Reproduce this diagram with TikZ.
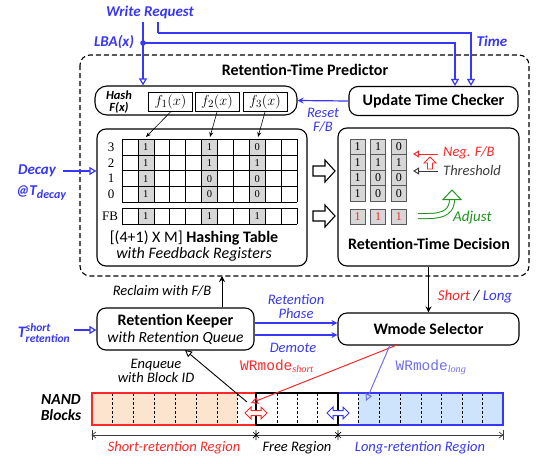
\documentclass[tikz,border=0pt]{standalone}
\usepackage{fontspec}
\setmainfont{Carlito}
\newfontfamily\serifnum{Liberation Serif}
\newfontfamily\monof{Liberation Mono}
\usetikzlibrary{arrows.meta,calc}
\definecolor{bl}{RGB}{55,55,245}
\definecolor{lbl}{RGB}{110,110,240}
\definecolor{rd}{RGB}{250,40,40}
\definecolor{gr}{RGB}{30,150,30}
\definecolor{peach}{RGB}{252,228,206}
\definecolor{lblue}{RGB}{206,228,252}
\definecolor{cellg}{RGB}{215,215,215}
\definecolor{dg}{RGB}{60,60,60}
\begin{document}
\begin{tikzpicture}[x=1pt,y=-1pt,
  font=\fontsize{14.5}{16}\selectfont,
  box/.style={draw, line width=1.1pt, rounded corners=9pt, fill=white, inner sep=0pt},
  ttl/.style={font=\fontsize{16}{18}\selectfont\bfseries},
  blab/.style={text=bl, font=\fontsize{15}{17}\selectfont\bfseries\itshape},
  ilab/.style={font=\fontsize{14.5}{16}\selectfont\itshape},
  hol/.style={-{Triangle[open,length=7pt,width=8pt]}},
  blin/.style={draw=bl, line width=1.2pt},
  num/.style={font=\serifnum\fontsize{10.5}{10.5}\selectfont, inner sep=0pt},
  fbox/.style={draw, line width=1pt, minimum width=44pt, minimum height=19pt, inner sep=0pt, font=\fontsize{15}{15}\selectfont}
]
\useasboundingbox (0,0) rectangle (540,463);

% ---------------- top inputs
\node[blab] (wr) at (150,12) {Write Request};
\node[blab] (lba) at (114,42) {LBA(\textit{x})};
\coordinate (lbadot) at (143,43);
\fill[bl] (lbadot) circle (2.8pt);
\node[blab] (time) at (492,41) {Time};

% ---------------- dashed predictor box
\draw[line width=1.1pt, dash pattern=on 5pt off 3pt, rounded corners=10pt] (80,55) rectangle (529,276);
\node[ttl] (rtp) at (305,70) {Retention-Time Predictor};

% hash box
\node[box, rounded corners=12pt, minimum width=202pt, minimum height=29pt] (hash) at (196,100.5) {};
\node[font=\fontsize{12.5}{12.5}\selectfont\bfseries\itshape, inner sep=0pt] (hashlab1) at (119,95) {Hash};
\node[font=\fontsize{12.5}{12.5}\selectfont\bfseries\itshape, inner sep=0pt] (hashlab2) at (119,107.5) {F(x)};
\node[fbox] (f1) at (170.5,102) {$f_{1}(x)$};
\node[fbox] (f2) at (217,102) {$f_{2}(x)$};
\node[fbox] (f3) at (265,102) {$f_{3}(x)$};

% update time checker
\node[box, minimum width=169pt, minimum height=29pt, ttl] (utc) at (433.5,101) {Update Time Checker};

% connectors from top
\coordinate (t1) at (455,43);
\coordinate (t2) at (471,33);
\coordinate (w2) at (158,33);
\draw[blin] (wr.south -| lbadot) -- (lbadot);
\draw[blin, hol] (lbadot) -- (lbadot |- hash.north);
\draw[blin, hol] (lbadot) -- (t1) -- (t1 |- utc.north);
\draw[blin] (wr.south -| w2) -- (w2);
\draw[blin, hol] (w2) -- (t2) -- (t2 |- utc.north);

% reset
\draw[blin, -{Stealth[length=6pt,width=6pt]}] (utc.west) -- (hash.east);
\node[text=bl, font=\fontsize{14.5}{14}\selectfont\itshape, align=center] (reset) at (323,120) {Reset\\F/B};

% hashing table box
\node[box, minimum width=210pt, minimum height=137pt] (ht) at (202,197.5) {};
\foreach \i in {1,5,8} {
  \fill[cellg] ({122+15.9*\i},139) rectangle ({122+15.9*(\i+1)},202.4);
  \fill[cellg] ({122+15.9*\i},208.3) rectangle ({122+15.9*(\i+1)},224.3);
}
\foreach \i in {0,...,11} {
  \draw[line width=0.6pt] ({122+15.9*\i},139) -- ({122+15.9*\i},202.4);
  \draw[line width=0.6pt] ({122+15.9*\i},208.3) -- ({122+15.9*\i},224.3);
}
\foreach \r in {0,...,4}
  \draw[line width=0.6pt] (122,{139+15.85*\r}) -- (296.9,{139+15.85*\r});
\draw[line width=0.6pt] (122,208.3) -- (296.9,208.3) (122,224.3) -- (296.9,224.3);
\foreach \lab [count=\r from 0] in {3,2,1,0}
  \node[num, font=\serifnum\fontsize{13}{13}\selectfont] (rl\r) at (111,{139+15.85*(\r+0.5)}) {\lab};
\node[num, font=\serifnum\fontsize{13}{13}\selectfont] (rlfb) at (110,216.3) {FB};
\foreach \i/\a/\b/\c/\d in {1/1/1/1/1, 5/1/1/0/0, 8/0/1/0/0} {
  \node[num] (v\i a) at ({122+15.9*(\i+0.5)},{139+15.85*0.5}) {\a};
  \node[num] (v\i b) at ({122+15.9*(\i+0.5)},{139+15.85*1.5}) {\b};
  \node[num] (v\i c) at ({122+15.9*(\i+0.5)},{139+15.85*2.5}) {\c};
  \node[num] (v\i d) at ({122+15.9*(\i+0.5)},{139+15.85*3.5}) {\d};
  \node[num] (v\i f) at ({122+15.9*(\i+0.5)},216.3) {1};
}
\coordinate (c1) at (146,137);
\coordinate (c5) at (210,137);
\coordinate (c8) at (258,137);
\draw[-{Stealth[length=5pt,width=4pt]}, line width=0.6pt] (f1.south) -- (c1);
\draw[-{Stealth[length=5pt,width=4pt]}, line width=0.6pt] (f2.south) -- (c5);
\draw[-{Stealth[length=5pt,width=4pt]}, line width=0.6pt] (f3.south) -- (c8);
\node[font=\fontsize{16}{18}\selectfont, inner sep=0pt] (htlab) at (194,238) {[(4+1) X M] \textbf{Hashing Table}};
\node[font=\fontsize{16}{18}\selectfont\itshape, inner sep=0pt] (htlab2) at (194,254) {with Feedback Registers};

% decay
\node[blab] (decay) at (37,171) {Decay};
\node[blab] (tdecay) at (41,193) {@T\raisebox{-3.5pt}{\fontsize{12}{12}\selectfont decay}};
\draw[blin, hol] (63,171) -- (ht.west |- 0,171);

% big hollow arrows
\draw[line width=1.1pt, fill=white] (313,166) -- (325,166) -- (325,160) -- (335,171) -- (325,182) -- (325,176) -- (313,176) -- cycle;
\draw[line width=1.1pt, fill=white] (313,211) -- (325,211) -- (325,205) -- (335,216) -- (325,227) -- (325,221) -- (313,221) -- cycle;

% retention-time decision
\node[box, minimum width=181pt, minimum height=138pt] (rtd) at (428.5,197) {};
\node[ttl, inner sep=0pt] (rtdlab) at (429,244) {Retention-Time Decision};
\foreach \j/\a/\b/\c/\d in {0/1/1/1/1, 1/1/1/0/0, 2/0/1/0/0} {
  \foreach \r/\v in {0/\a,1/\b,2/\c,3/\d}
    \node[num, font=\serifnum\fontsize{12}{12}\selectfont, draw=gray!70!black, fill=cellg, minimum width=15pt, minimum height=15.5pt, line width=0.6pt] (d\j\r) at ({357.5+20.7*\j},{146.75+15.5*\r}) {\v};
  \node[num, font=\serifnum\fontsize{12}{12}\selectfont, draw=gray!70!black, fill=cellg, minimum width=15pt, minimum height=15pt, line width=0.6pt, text=rd] (d\j f) at ({357.5+20.7*\j},216.5) {1};
}
\coordinate (negs) at (438,154);
\coordinate (nege) at (413,154);
\coordinate (ths) at (438,171);
\coordinate (the) at (413,171);
\draw[rd, line width=1pt, -{Triangle[open,length=6pt,width=7pt]}] (negs) -- (nege);
\draw[dg, line width=1pt, -{Triangle[open,length=6pt,width=7pt]}] (ths) -- (the);
\node[text=rd, font=\fontsize{14.5}{16}\selectfont\itshape, anchor=west, inner sep=0pt] (neglab) at (443,153) {Neg. F/B};
\node[text=dg, font=\fontsize{14.5}{16}\selectfont\itshape, anchor=west, inner sep=0pt] (thlab) at (443,171) {Threshold};
\draw[rd, line width=0.9pt, fill=white] (430,157) -- (436,163) -- (432.5,163) -- (432.5,169) -- (427.5,169) -- (427.5,163) -- (424,163) -- cycle;
\draw[gr, line width=1pt, double=white, double distance=4pt] (418,216) -- (428,216) .. controls (446,216) and (452,210) .. (452,199);
\draw[gr, line width=1pt, fill=white] (443,199.5) -- (461,199.5) -- (452,190) -- cycle;
\node[text=gr, font=\fontsize{15}{16}\selectfont\itshape, anchor=west, inner sep=0pt] (adj) at (453,218) {Adjust};

% ---------------- lower blocks
\node[box, minimum width=157pt, minimum height=42pt] (rk) at (175.5,329) {};
\node[font=\fontsize{16}{16}\selectfont\bfseries, inner sep=0pt] (rk1) at (175.5,321) {Retention Keeper};
\node[font=\fontsize{15.5}{16}\selectfont\itshape, inner sep=0pt] (rk2) at (175.5,338.5) {with Retention Queue};
\node[box, minimum width=181pt, minimum height=32pt, ttl] (ws) at (428.5,329) {Wmode Selector};

\coordinate (recl) at (222,276);
\draw[line width=1pt, -{Stealth[length=6pt,width=6pt]}] (rk.north -| recl) -- (recl);
\node[ilab] (recllab) at (162,291) {Reclaim with F/B};

\draw[line width=1pt, -{Stealth[length=6pt,width=6pt]}] (rtd.south) -- (ws.north);
\node[font=\fontsize{15}{17}\selectfont\itshape] (sl) at (475,297) {\textcolor{rd}{Short} / \textcolor{bl}{Long}};

\draw[blin, -{Stealth[length=6pt,width=6pt]}] (rk.east |- 0,323) -- (ws.west |- 0,323);
\draw[blin, -{Stealth[length=6pt,width=6pt]}] (rk.east |- 0,335) -- (ws.west |- 0,335);
\node[text=bl, font=\fontsize{14.5}{14}\selectfont\itshape, align=center] (rph) at (296,307) {Retention\\Phase};
\node[text=bl, ilab] (dem) at (293,348) {Demote};

\node[text=bl, font=\fontsize{16}{16}\selectfont\bfseries\itshape, inner sep=0pt] (tsr) at (44,333)
  {T$^{\mbox{\fontsize{11.5}{11}\selectfont\bfseries\itshape short}}_{\mbox{\fontsize{11.5}{11}\selectfont\bfseries\itshape retention}}$};
\draw[blin, hol] (74,330) -- (rk.west |- 0,330);

% NAND blocks
\node[font=\fontsize{15.5}{16}\selectfont\bfseries\itshape, align=center] (nand) at (61,408) {NAND\\Blocks};
\fill[peach] (92,393) rectangle (237,425);
\fill[lblue] (358,393) rectangle (503,425);
\foreach \x in {112,133,154,175,196,217,237,277,297,317,358,379,400,421,441,462,482}
  \draw[line width=0.6pt, dash pattern=on 2.5pt off 2pt] (\x,393) -- (\x,425);
\node[draw=rd, line width=1.2pt, minimum width=164pt, minimum height=32pt, inner sep=0pt] (sreg) at (174,409) {};
\node[draw=bl, line width=1.2pt, minimum width=165pt, minimum height=32pt, inner sep=0pt] (lreg) at (420.5,409) {};
\node[draw, line width=1.2pt, minimum width=82pt, minimum height=32pt, inner sep=0pt] (freg) at (297,409) {};
\draw[rd, line width=1pt, fill=white] (245,413) -- (251,407) -- (251,410.5) -- (261,410.5) -- (261,407) -- (267,413) -- (261,419) -- (261,415.5) -- (251,415.5) -- (251,419) -- cycle;
\draw[bl, line width=1pt, fill=white] (327,413) -- (333,407) -- (333,410.5) -- (343,410.5) -- (343,407) -- (349,413) -- (343,419) -- (343,415.5) -- (333,415.5) -- (333,419) -- cycle;

% enqueue and wrmode lines
\coordinate (enq) at (247,402);
\coordinate (rkb) at (185,350);
\draw[line width=0.9pt, -{Triangle[open,length=7pt,width=7pt]}] (enq) -- (rkb);
\node[ilab, align=center, font=\fontsize{14.5}{14}\selectfont\itshape] (enqlab) at (156,371) {Enqueue\\with Block ID};
\coordinate (wss) at (397,345);
\coordinate (wsl) at (390,345);
\coordinate (sEnd) at (251,403);
\coordinate (lEnd) at (366,401);
\draw[rd, line width=1pt, -{Triangle[open,length=7pt,width=7pt]}] (wss) -- (sEnd);
\draw[lbl, line width=1pt, -{Triangle[open,length=7pt,width=7pt]}] (wsl) -- (lEnd);
\node[text=rd, inner sep=0pt] (wrs) at (277,366) {\monof\fontsize{14.5}{14}\selectfont WRmode\textsubscript{\serifnum\itshape short}};
\node[text=lbl, inner sep=0pt] (wrl) at (431,367) {\monof\fontsize{14.5}{14}\selectfont WRmode\textsubscript{\serifnum\itshape long}};

% dimension line
\draw[dg, line width=0.7pt] (92,435) -- (503,435);
\draw[dg, line width=0.7pt] (92,430) -- (92,440) (503,430) -- (503,440);
\draw[dg, line width=0.7pt] (96,432) -- (92,435) -- (96,438) (499,432) -- (503,435) -- (499,438);
\foreach \x in {256,338}
  \draw[black, line width=0.7pt] (\x,430) -- (\x,440) ({\x-3},432) -- ({\x+3},438) ({\x-3},438) -- ({\x+3},432);
\node[text=rd, ilab] (srlab) at (174,448) {Short-retention Region};
\node[ilab] (frlab) at (297,448) {Free Region};
\node[text=bl, ilab] (lrlab) at (420,448) {Long-retention Region};
\end{tikzpicture}
\end{document}
